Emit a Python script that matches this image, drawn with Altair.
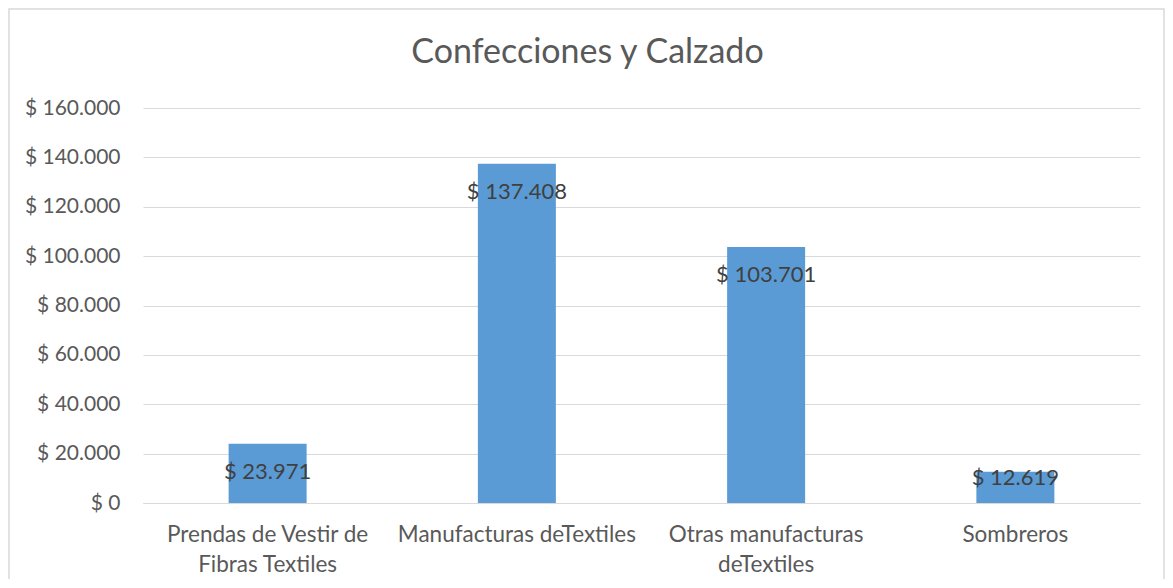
import altair as alt
import pandas as pd

categories = ["Prendas de Vestir de Fibras Textiles", "Manufacturas deTextiles",
              "Otras manufacturas deTextiles", "Sombreros"]
values = [23971, 137408, 103701, 12619]
y_ticks = [0, 20000, 40000, 60000, 80000, 100000, 120000, 140000, 160000]

df = pd.DataFrame({"cat": categories, "value": values})

FONT = "Lato"
W, H = 997, 395

x_enc = alt.X("cat:N", sort=categories, title=None,
              scale=alt.Scale(paddingInner=0, paddingOuter=0),
              axis=alt.Axis(labelAngle=0, labelFont=FONT, labelFontSize=22.5,
                            labelColor="#595959", ticks=False, domain=True,
                            domainColor="#d9d9d9", labelPadding=20,
                            labelLineHeight=30, labelLimit=300,
                            labelExpr="datum.label == 'Prendas de Vestir de Fibras Textiles' ? ['Prendas de Vestir de','Fibras Textiles'] : datum.label == 'Otras manufacturas deTextiles' ? ['Otras manufacturas','deTextiles'] : datum.label"))

y_scale = alt.Scale(domain=[0, 160000])

base = alt.Chart(df)

bars = base.mark_bar(color="#5b9bd5", size=78).encode(
    x=x_enc,
    y=alt.Y("value:Q", scale=y_scale, title=None,
            axis=alt.Axis(values=y_ticks, labelFont=FONT, labelFontSize=21,
                          labelColor="#595959", ticks=False, domain=False,
                          gridColor="#d9d9d9", gridWidth=1, labelPadding=23,
                          labelExpr="'$ ' + replace(format(datum.value, ',.0f'), ',', '.')")),
)

labels = base.transform_calculate(
    lbl="'$ ' + replace(format(datum.value, ',.0f'), ',', '.')",
    ly="datum.value > 20000 ? datum.value - 11500 : datum.value - 2400",
).mark_text(font=FONT, fontSize=22, color="#404040", baseline="middle").encode(
    x=alt.X("cat:N", sort=categories),
    y=alt.Y("ly:Q", scale=y_scale),
    text="lbl:N",
)

border = alt.Chart(pd.DataFrame({"a": [0]})).mark_rect(
    fill=None, stroke="#d9d9d9", strokeWidth=1.5, clip=False
).encode(
    x=alt.value(-134), x2=alt.value(1021), y=alt.value(-99), y2=alt.value(500)
)

chart = alt.layer(border, bars, labels).properties(
    width=W, height=H,
    title=alt.TitleParams("Confecciones y Calzado", font=FONT, fontSize=34,
                          fontWeight="normal", color="#595959", anchor="middle",
                          frame="group", baseline="middle", dx=-54, offset=-79),
    autosize=alt.AutoSizeParams(type="none"),
    padding={"left": 135, "top": 100, "right": 25, "bottom": 76},
).configure(background="white").configure_view(stroke=None)

chart.save("out.html", embed_options={"renderer": "svg", "actions": False})
